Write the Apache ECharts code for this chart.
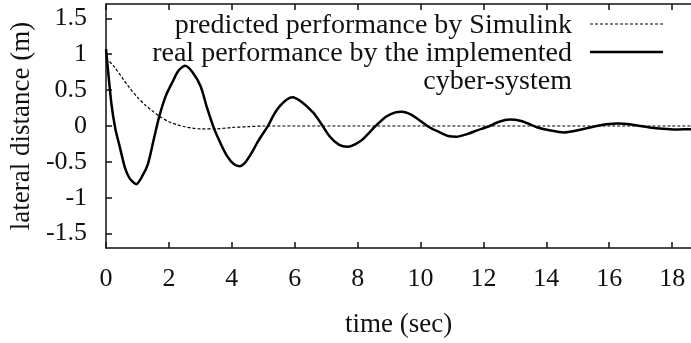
<!DOCTYPE html>
<html>
<head>
<meta charset="utf-8">
<script src="https://cdn.jsdelivr.net/npm/echarts@6/dist/echarts.min.js"></script>
<style>
  html, body { margin: 0; padding: 0; background: #fff; }
  #chart { width: 691px; height: 343px; }
</style>
</head>
<body>
<div id="chart"></div>
<script>
// Lateral distance response: Simulink prediction vs. the implemented cyber-system
const tPred = [0, 0.25, 0.5, 0.75, 1.0, 1.25, 1.5, 1.75, 2.0, 2.25, 2.5, 2.75, 3.0, 3.5, 4.0, 4.5, 5.0, 6.0, 8.0, 10.0, 12.0, 14.0, 16.0, 18.0, 19.0];
const vPred = [0.95, 0.83, 0.68, 0.53, 0.40, 0.29, 0.20, 0.12, 0.06, 0.02, -0.01, -0.03, -0.04, -0.04, -0.02, -0.01, 0, 0, 0, 0, 0, 0, 0, 0, 0];

const tReal = [0, 0.17, 0.3, 0.43, 0.6, 0.75, 0.96, 1.15, 1.33, 1.5, 1.69, 1.9, 2.12, 2.3, 2.51, 2.75, 3.01, 3.2, 3.43, 3.65, 3.85, 4.06, 4.25, 4.4, 4.58, 4.85, 5.16, 5.35, 5.53, 5.75, 5.93, 6.2, 6.58, 6.8, 7.1, 7.4, 7.68, 7.9, 8.15, 8.57, 8.9, 9.2, 9.41, 9.7, 10.0, 10.25, 10.57, 10.88, 11.14, 11.5, 11.8, 12.14, 12.5, 12.83, 13.2, 13.5, 13.72, 14.1, 14.56, 15.0, 15.3, 15.6, 15.9, 16.29, 16.7, 17.0, 17.28, 17.7, 18.1, 18.5, 19.0];
const vReal = [1.07, 0.31, -0.05, -0.28, -0.58, -0.73, -0.81, -0.70, -0.53, -0.22, 0.13, 0.42, 0.62, 0.77, 0.84, 0.75, 0.55, 0.27, -0.03, -0.25, -0.42, -0.53, -0.56, -0.52, -0.41, -0.20, 0.01, 0.17, 0.28, 0.37, 0.40, 0.34, 0.19, 0.06, -0.14, -0.26, -0.29, -0.26, -0.19, 0.0, 0.13, 0.19, 0.20, 0.16, 0.07, -0.01, -0.08, -0.14, -0.15, -0.11, -0.06, -0.01, 0.06, 0.09, 0.07, 0.02, -0.02, -0.06, -0.09, -0.06, -0.03, 0.0, 0.025, 0.035, 0.02, 0.0, -0.02, -0.04, -0.05, -0.045, -0.04];

const xTicks = [0, 2, 4, 6, 8, 10, 12, 14, 16, 18];
const yTicks = [-1.5, -1, -0.5, 0, 0.5, 1, 1.5];

const seriesNames = ['predicted performance by Simulink', 'real performance by the implemented cyber-system'];
const legendLines = ['predicted performance by Simulink', 'real performance by the implemented', 'cyber-system'];

const FONT = '"Liberation Serif", "Times New Roman", serif';
const INK = '#111';

const zip = (ts, vs) => ts.map((t, i) => [t, vs[i]]);

const chart = echarts.init(document.getElementById('chart'), null, { renderer: 'canvas' });

const axisLineStyle = { color: INK, width: 1.5 };

chart.setOption({
  animation: false,
  backgroundColor: '#fff',
  grid: { left: 104, top: 4, bottom: 88, right: -4 },
  xAxis: [
    {
      type: 'value', min: 0, max: 18.6, position: 'bottom',
      name: 'time (sec)', nameLocation: 'middle', nameGap: 63,
      nameTextStyle: { fontFamily: FONT, fontSize: 27, color: INK },
      axisLine: { show: true, onZero: false, lineStyle: axisLineStyle },
      axisTick: { show: true, inside: true, length: 6, lineStyle: axisLineStyle, customValues: xTicks },
      axisLabel: { show: true, margin: 18, fontFamily: FONT, fontSize: 26, color: INK, customValues: xTicks,
                   formatter: v => String(v) },
      splitLine: { show: false }
    },
    {
      type: 'value', min: 0, max: 18.6, position: 'top',
      axisLine: { show: true, onZero: false, lineStyle: axisLineStyle },
      axisTick: { show: true, inside: true, length: 6, lineStyle: axisLineStyle, customValues: xTicks },
      axisLabel: { show: false },
      splitLine: { show: false }
    }
  ],
  yAxis: {
    type: 'value', min: -1.7, max: 1.7,
    name: 'lateral distance (m)', nameLocation: 'middle', nameGap: 66, nameRotate: 90,
    nameTextStyle: { fontFamily: FONT, fontSize: 27, color: INK },
    axisLine: { show: true, onZero: false, lineStyle: axisLineStyle },
    axisTick: { show: true, inside: true, length: 6, lineStyle: axisLineStyle, customValues: yTicks },
    axisLabel: { show: true, margin: 19, fontFamily: FONT, fontSize: 26, color: INK, customValues: yTicks,
                 formatter: v => String(v) },
    splitLine: { show: false }
  },
  series: [
    {
      name: seriesNames[0], type: 'line', xAxisIndex: 0, showSymbol: false, symbol: 'none',
      smooth: 0.3, data: zip(tPred, vPred),
      lineStyle: { color: '#000', width: 1.2, type: [3, 2] }
    },
    {
      name: seriesNames[1], type: 'line', xAxisIndex: 0, showSymbol: false, symbol: 'none',
      smooth: 0.25, data: zip(tReal, vReal),
      lineStyle: { color: '#000', width: 2.5 }
    }
  ],
  graphic: [
    { type: 'text', right: 691 - 572, top: 12,
      style: { text: legendLines[0], font: '28px ' + FONT, fill: INK, textAlign: 'right' } },
    { type: 'text', right: 691 - 572, top: 40,
      style: { text: legendLines[1], font: '28px ' + FONT, fill: INK, textAlign: 'right' } },
    { type: 'text', right: 691 - 572, top: 68,
      style: { text: legendLines[2], font: '28px ' + FONT, fill: INK, textAlign: 'right' } },
    { type: 'line', shape: { x1: 590, y1: 24, x2: 663, y2: 24 },
      style: { stroke: '#000', lineWidth: 1.2, lineDash: [3, 2] } },
    { type: 'line', shape: { x1: 590, y1: 52, x2: 663, y2: 52 },
      style: { stroke: '#000', lineWidth: 2.5 } }
  ]
});
</script>
</body>
</html>
